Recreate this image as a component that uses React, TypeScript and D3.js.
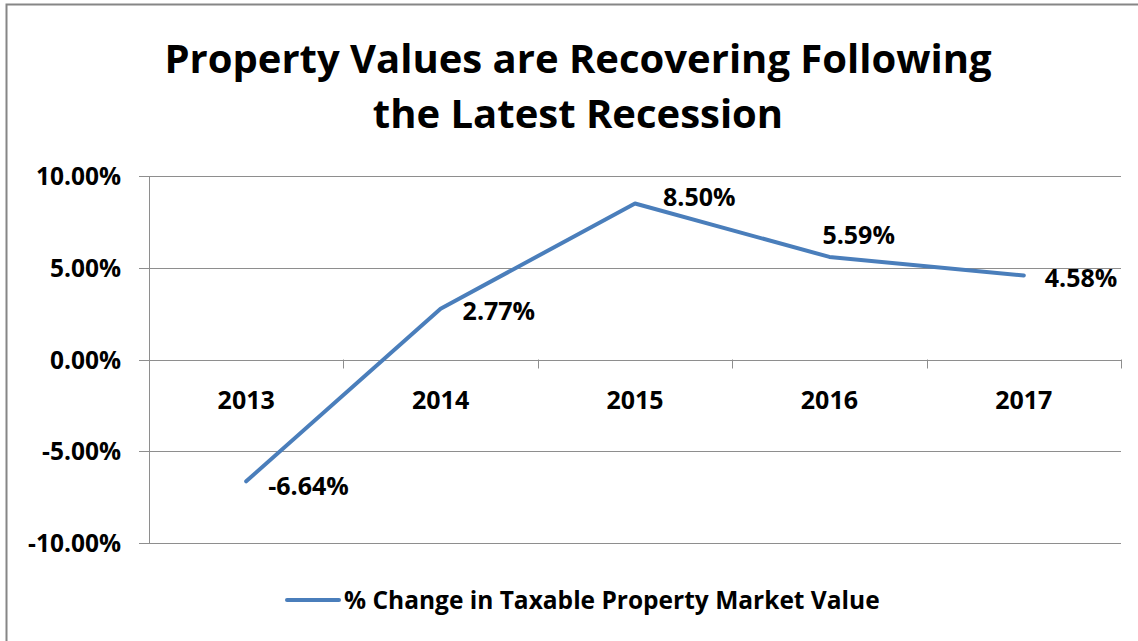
import React, { useEffect, useRef } from "react";
import * as d3 from "d3";

// chart data
const years = ["2013", "2014", "2015", "2016", "2017"];
const pctChange = [-0.0664, 0.0277, 0.085, 0.0559, 0.0458];
const yTicks = [-0.1, -0.05, 0, 0.05, 0.1];
// hand-placed data label nudges (dx, dy from the point)
const labelOffsets = [
  [22, 14],
  [22, 11],
  [28, 2],
  [-7, -13],
  [21, 12],
];
const seriesName = "% Change in Taxable Property Market Value";
const titleLines = ["Property Values are Recovering Following", "the Latest Recession"];

const W = 1138;
const H = 641;
const FONT = "'Open Sans', 'Noto Sans', sans-serif";
const LINE_COLOR = "#4a7ebb";
const GRID_COLOR = "#8e8e8e";

export default function App() {
  const svgRef = useRef<SVGSVGElement>(null);

  useEffect(() => {
    const svg = d3.select(svgRef.current);
    svg.selectAll("*").remove();

    // outer chart border
    svg.append("rect")
      .attr("x", 6.5)
      .attr("y", 4.5)
      .attr("width", W + 20)
      .attr("height", H + 20)
      .attr("fill", "white")
      .attr("stroke", "#868686")
      .attr("stroke-width", 2);

    // title
    svg.append("g")
      .selectAll("text")
      .data(titleLines)
      .enter()
      .append("text")
      .attr("x", 578)
      .attr("y", (d, i) => 73 + i * 55)
      .attr("text-anchor", "middle")
      .style("font-family", FONT)
      .style("font-weight", "bold")
      .style("font-size", "40px")
      .text(d => d);

    const left = 149, right = 1121, top = 176, bottom = 543;

    const x = d3.scaleBand().domain(years).range([left, right]);
    const y = d3.scaleLinear().domain([-0.1, 0.1]).range([bottom, top]);
    // plain hyphen for negatives, like the original
    const fmt = d3.formatLocale({
      decimal: ".",
      thousands: ",",
      grouping: [3],
      currency: ["$", ""],
      minus: "-",
    }).format(".2%");

    // gridlines
    svg.append("g")
      .selectAll("line")
      .data(yTicks)
      .enter()
      .append("line")
      .attr("x1", left - 10)
      .attr("x2", right)
      .attr("y1", d => Math.round(y(d)) + 0.5)
      .attr("y2", d => Math.round(y(d)) + 0.5)
      .attr("stroke", GRID_COLOR)
      .attr("stroke-width", 1);

    // y axis line
    svg.append("line")
      .attr("x1", left + 0.5)
      .attr("x2", left + 0.5)
      .attr("y1", top)
      .attr("y2", bottom)
      .attr("stroke", GRID_COLOR);

    // y tick labels
    svg.append("g")
      .selectAll("text")
      .data(yTicks)
      .enter()
      .append("text")
      .attr("x", 121)
      .attr("y", d => y(d) + 9)
      .attr("text-anchor", "end")
      .style("font-family", FONT)
      .style("font-weight", "bold")
      .style("font-size", "24.5px")
      .text(d => fmt(d));

    // category tick marks on the zero line
    const tickXs = years.map(d => x(d) as number).concat([right]);
    svg.append("g")
      .selectAll("line")
      .data(tickXs)
      .enter()
      .append("line")
      .attr("x1", d => Math.round(d) + 0.5)
      .attr("x2", d => Math.round(d) + 0.5)
      .attr("y1", y(0))
      .attr("y2", y(0) + 9)
      .attr("stroke", GRID_COLOR);

    // category labels
    svg.append("g")
      .selectAll("text")
      .data(years)
      .enter()
      .append("text")
      .attr("x", d => (x(d) as number) + x.bandwidth() / 2)
      .attr("y", y(0) + 49)
      .attr("text-anchor", "middle")
      .style("font-family", FONT)
      .style("font-weight", "bold")
      .style("font-size", "25px")
      .text(d => d);

    const pts = years.map((yr, i) => ({
      x: (x(yr) as number) + x.bandwidth() / 2,
      y: y(pctChange[i]),
      v: pctChange[i],
      off: labelOffsets[i],
    }));

    const line = d3.line<{ x: number; y: number }>()
      .x(d => d.x)
      .y(d => d.y);

    svg.append("path")
      .datum(pts)
      .attr("d", line)
      .attr("fill", "none")
      .attr("stroke", LINE_COLOR)
      .attr("stroke-width", 4)
      .attr("stroke-linecap", "round")
      .attr("stroke-linejoin", "round");

    // data labels
    svg.append("g")
      .selectAll("text")
      .data(pts)
      .enter()
      .append("text")
      .attr("x", d => d.x + d.off[0])
      .attr("y", d => d.y + d.off[1])
      .style("font-family", FONT)
      .style("font-weight", "bold")
      .style("font-size", "25px")
      .text(d => fmt(d.v));

    // legend
    const legend = svg.append("g").attr("transform", "translate(287,600)");
    legend.append("line")
      .attr("x1", 0)
      .attr("x2", 52)
      .attr("stroke", LINE_COLOR)
      .attr("stroke-width", 4)
      .attr("stroke-linecap", "round");
    legend.append("text")
      .attr("x", 57)
      .attr("y", 9)
      .style("font-family", FONT)
      .style("font-weight", "bold")
      .style("font-size", "24.5px")
      .text(seriesName);
  }, []);

  return (
    <svg
      ref={svgRef}
      width={W}
      height={H}
      style={{ position: "absolute", left: 0, top: 0, background: "white" }}
    />
  );
}
